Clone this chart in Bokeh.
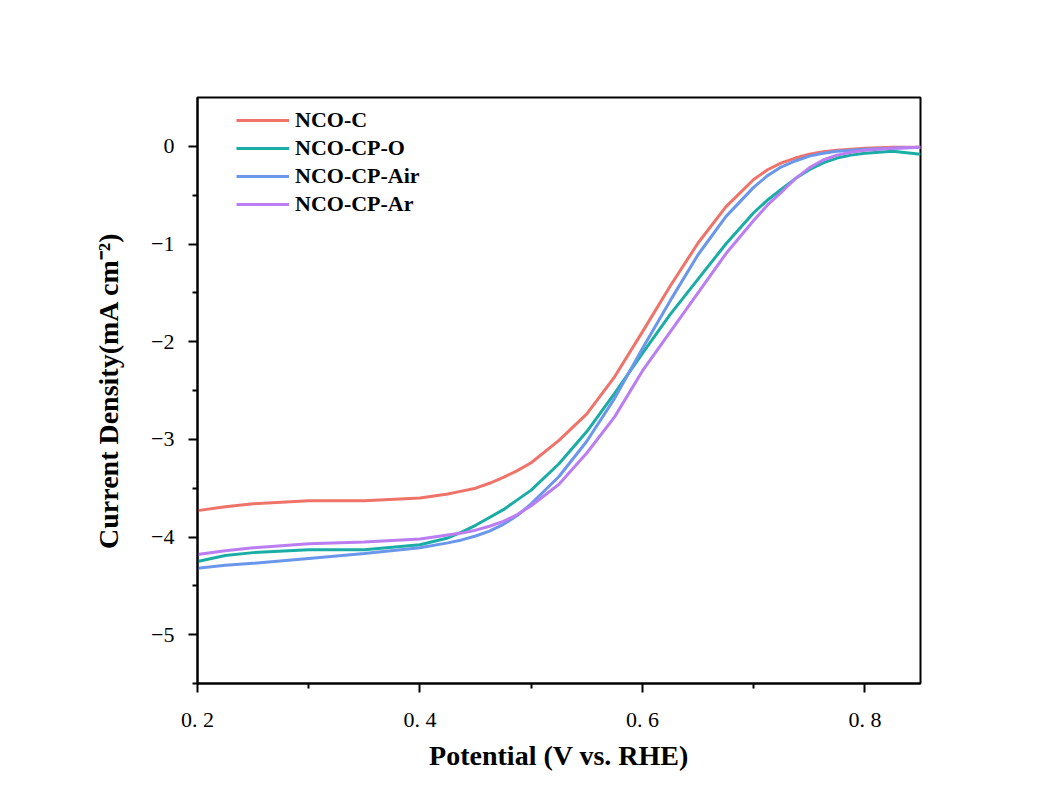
from bokeh.plotting import figure
from bokeh.models import FixedTicker, Legend, LegendItem
from bokeh.embed import file_html
from bokeh.resources import INLINE

potential = [0.2, 0.225, 0.25, 0.3, 0.35, 0.4, 0.425, 0.4375, 0.45, 0.4625, 0.475, 0.4875,
             0.5, 0.525, 0.55, 0.575, 0.6, 0.625, 0.65, 0.675, 0.7, 0.7125, 0.725, 0.7375,
             0.75, 0.7625, 0.775, 0.7875, 0.8, 0.825, 0.85]
nco_c = [-3.73, -3.69, -3.66, -3.63, -3.63, -3.60, -3.56, -3.53, -3.50, -3.45, -3.39, -3.32,
         -3.24, -3.01, -2.74, -2.36, -1.90, -1.43, -0.99, -0.62, -0.34, -0.24, -0.17, -0.12,
         -0.08, -0.055, -0.04, -0.03, -0.02, -0.01, -0.01]
nco_cp_o = [-4.25, -4.19, -4.16, -4.13, -4.13, -4.08, -4.01, -3.95, -3.88, -3.80, -3.72, -3.62,
            -3.52, -3.25, -2.92, -2.53, -2.12, -1.72, -1.36, -1.00, -0.68, -0.55, -0.44, -0.33,
            -0.24, -0.17, -0.12, -0.09, -0.07, -0.05, -0.08]
nco_cp_air = [-4.32, -4.29, -4.27, -4.22, -4.17, -4.11, -4.06, -4.03, -3.99, -3.94, -3.87, -3.78,
              -3.66, -3.38, -3.02, -2.58, -2.07, -1.58, -1.11, -0.72, -0.42, -0.30, -0.21, -0.15,
              -0.10, -0.07, -0.05, -0.04, -0.03, -0.02, -0.01]
nco_cp_ar = [-4.18, -4.14, -4.11, -4.07, -4.05, -4.02, -3.98, -3.96, -3.93, -3.89, -3.84, -3.77,
             -3.68, -3.46, -3.14, -2.77, -2.30, -1.90, -1.50, -1.10, -0.76, -0.60, -0.47, -0.33,
             -0.22, -0.14, -0.09, -0.06, -0.04, -0.02, -0.01]

series_names = ["NCO-C", "NCO-CP-O", "NCO-CP-Air", "NCO-CP-Ar"]
series_values = [nco_c, nco_cp_o, nco_cp_air, nco_cp_ar]
series_colors = ["#F0736A", "#1AADA5", "#6A97EC", "#BA7EF2"]

x_ticks = [0.2, 0.4, 0.6, 0.8]
x_tick_labels = ["0. 2", "0. 4", "0. 6", "0. 8"]
x_minor = [0.3, 0.5, 0.7]
y_ticks = [-5, -4, -3, -2, -1, 0]
y_tick_labels = ["\u22125", "\u22124", "\u22123", "\u22122", "\u22121", "0"]
y_minor = [-5.5, -4.5, -3.5, -2.5, -1.5, -0.5]

SERIF = "Liberation Serif"

p = figure(width=1046, height=803, output_backend="svg", toolbar_location=None,
           x_range=(0.2, 0.85), y_range=(-5.5, 0.5),
           min_border_left=197, min_border_right=126, min_border_top=97, min_border_bottom=120)
p.xgrid.visible = False
p.ygrid.visible = False
p.background_fill_color = "white"
p.border_fill_color = "white"
p.outline_line_color = "black"
p.outline_line_width = 2

renderers = []
for name, vals, col in zip(series_names, series_values, series_colors):
    r = p.line(potential, vals, line_color=col, line_width=3)
    renderers.append((name, r))

for ax in (p.xaxis[0], p.yaxis[0]):
    ax.axis_line_width = 2
    ax.major_tick_line_width = 2
    ax.minor_tick_line_width = 2
    ax.major_tick_out = 9
    ax.major_tick_in = 0
    ax.minor_tick_out = 5
    ax.minor_tick_in = 0
    ax.major_label_text_font = SERIF
    ax.major_label_text_font_size = "22px"
    ax.major_label_text_color = "black"
    ax.axis_label_text_font = SERIF
    ax.axis_label_text_font_style = "bold"
    ax.axis_label_text_font_size = "28px"
    ax.axis_label_text_color = "black"

p.xaxis.ticker = FixedTicker(ticks=x_ticks, minor_ticks=x_minor)
p.xaxis.major_label_overrides = dict(zip(x_ticks, x_tick_labels))
p.yaxis.ticker = FixedTicker(ticks=y_ticks, minor_ticks=y_minor)
p.yaxis.major_label_overrides = dict(zip(y_ticks, y_tick_labels))
p.xaxis.axis_label = "Potential (V vs. RHE)"
p.yaxis.axis_label = "Current Density(mA cm\u207b\u00b2)"
p.xaxis.major_label_standoff = 14
p.yaxis.major_label_standoff = 14
p.xaxis.axis_label_standoff = 5
p.yaxis.axis_label_standoff = 24

legend = Legend(items=[LegendItem(label=n, renderers=[r]) for n, r in renderers],
                location=(39, 466), border_line_color=None, background_fill_alpha=0,
                padding=5, spacing=2, glyph_width=53, glyph_height=22, label_height=22,
                label_standoff=6, label_text_font=SERIF, label_text_font_style="bold",
                label_text_font_size="22px", label_text_color="black")
p.add_layout(legend)

open("out.html", "w").write(file_html(p, INLINE))
